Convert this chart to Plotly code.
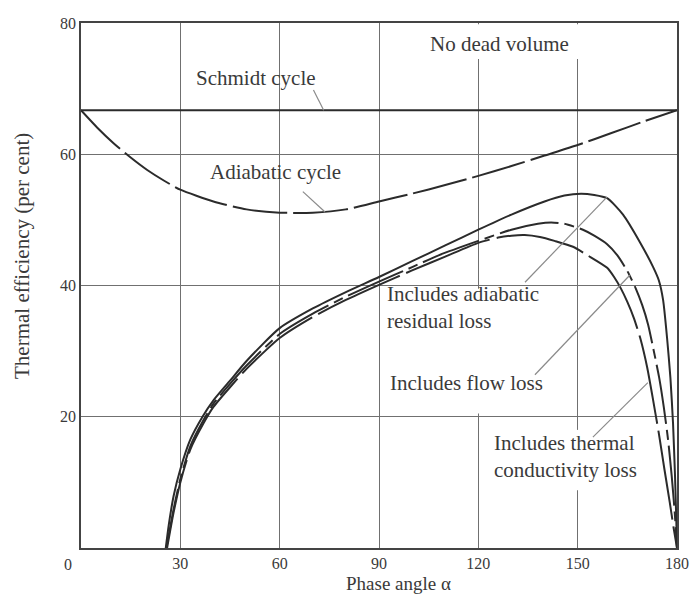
import plotly.graph_objects as go

# ---------------- data ----------------
schmidt_x = [0, 180]
schmidt_y = [66.7, 66.7]

adiabatic_x = [0, 5, 10, 15, 20, 25, 30, 40, 50, 60, 70, 80, 90, 100, 110, 120, 130, 140, 150, 160, 170, 180]
adiabatic_y = [66.7, 64.0, 61.6, 59.5, 57.6, 56.0, 54.6, 52.8, 51.6, 51.1, 51.1, 51.6, 52.8, 54.0, 55.3,
               56.7, 58.2, 59.8, 61.4, 63.2, 65.0, 66.7]

residual_x = [25.6, 26.5, 28, 30, 33, 36.7, 40, 45, 50, 60, 70, 80, 90, 100, 110, 120, 130, 140, 146, 151,
              155, 158.9, 163.7, 168.8, 172.8, 174.5, 175.8, 177, 178, 178.8, 179.4, 179.8, 180]
residual_y = [0, 3.5, 8, 12, 16.5, 20, 22.5, 25.5, 28.5, 33.5, 36.5, 39, 41.3, 43.7, 46.1, 48.5, 50.8, 52.8,
              53.7, 54.0, 53.8, 53.3, 50.8, 46.6, 42.8, 40.8, 37.8, 32, 26, 19, 11, 4, 0]

flow_x = [25.8, 28, 30, 33, 37, 40, 45, 50, 60, 70, 80, 90, 100, 108, 120, 130, 138, 142, 146, 151.6, 155,
          158.9, 162, 165, 167.5, 169.5, 171.3, 173, 174.6, 176, 177.3, 178.4, 179.3, 180]
flow_y = [0, 6, 10.5, 15.5, 19.5, 22, 25, 27.8, 32.6, 35.7, 38.3, 40.6, 42.8, 44.6, 46.8, 48.5, 49.4, 49.6,
          49.4, 48.5, 47.6, 46.3, 44.6, 42.2, 39.6, 37, 34, 30, 26, 21.5, 16.5, 11, 5.5, 0]

thermal_x = [26, 28, 30, 33, 37, 40, 45, 50, 60, 70, 80, 90, 100, 110, 120, 126, 130, 134, 138.6, 143,
             148.6, 153, 158.9, 161, 163, 165, 167, 169, 171, 172.8, 174.5, 176.2, 177.8, 179, 180]
thermal_y = [0, 5.5, 10, 15, 19, 21.5, 24.5, 27.3, 32, 35.2, 37.8, 40.1, 42.3, 44.4, 46.5, 47.3, 47.6, 47.7,
             47.4, 46.8, 45.9, 44.6, 42.7, 41.3, 39.6, 37.5, 35, 31.8, 27.5, 22.5, 17.5, 12, 7, 3, 0]

x_ticks = [30, 60, 90, 120, 150, 180]
y_ticks = [20, 40, 60, 80]

# ---------------- styling ----------------
INK = "#2b2b2b"
TXT = "#3a3a3a"
GRID = "#707070"
LEAD = "#8a8a8a"
FONT = "Liberation Serif"
LBL = 21

fig = go.Figure()

def curve(x, y, dash):
    fig.add_trace(go.Scatter(x=x, y=y, mode="lines", showlegend=False, hoverinfo="skip",
                             line=dict(color=INK, width=2, dash=dash, shape="spline", smoothing=0.6)))

curve(schmidt_x, schmidt_y, "solid")
curve(adiabatic_x, adiabatic_y, "55px,6px")
curve(residual_x, residual_y, "solid")
curve(flow_x, flow_y, "60px,6px,10px,6px")
curve(thermal_x, thermal_y, "90px,7px")

# white patches where the gridlines are interrupted by labels
for x0, x1, y0, y1 in [(105, 155, 74.5, 79.8), (118.5, 121.5, 20.5, 39.5), (148.5, 151.5, 8.8, 18)]:
    fig.add_shape(type="rect", x0=x0, x1=x1, y0=y0, y1=y1, xref="x", yref="y",
                  fillcolor="white", line=dict(width=0), layer="between")

# leader lines
for (xa, ya, xb, yb) in [(70.2, 69.8, 73.3, 66.7),
                         (67.0, 54.3, 73.7, 51.2),
                         (134.1, 40.5, 158.9, 53.5),
                         (137.1, 26.4, 165.8, 41.6),
                         (154.6, 16.9, 171.2, 25.2)]:
    fig.add_shape(type="line", x0=xa, y0=ya, x1=xb, y1=yb, xref="x", yref="y",
                  line=dict(color=LEAD, width=1.2), layer="above")

labels = [
    ("No dead volume", 126.5, 76.8, "center"),
    ("Schmidt cycle", 52.9, 71.6, "center"),
    ("Adiabatic cycle", 58.6, 57.3, "center"),
    ("Includes adiabatic<br>residual loss", 91.8, 36.7, "left"),
    ("Includes flow loss", 92.7, 25.2, "left"),
    ("Includes thermal<br>conductivity loss", 124.1, 13.9, "left"),
]
for text, x, y, anchor in labels:
    fig.add_annotation(x=x, y=y, xref="x", yref="y", text=text, showarrow=False,
                       xanchor=anchor, yanchor="middle", align=anchor,
                       font=dict(family=FONT, size=LBL, color=TXT))

# shared origin label
fig.add_annotation(x=0, y=0, xref="x", yref="y", text="0", showarrow=False,
                   xshift=-13, yshift=-16, font=dict(family=FONT, size=16, color=TXT))

# axis titles
fig.add_annotation(x=95.8, y=0, xref="x", yref="paper", text="Phase angle α", showarrow=False,
                   yanchor="top", yshift=-23, font=dict(family=FONT, size=19, color=TXT))
fig.add_annotation(x=0, y=44.5, xref="paper", yref="y", text="Thermal efficiency (per cent)",
                   showarrow=False, textangle=-90, xanchor="center", xshift=-59,
                   font=dict(family=FONT, size=LBL, color=TXT))

fig.update_xaxes(range=[0, 180], tickvals=x_ticks, ticktext=[str(v) for v in x_ticks],
                 showgrid=True, gridcolor=GRID, gridwidth=1.1, zeroline=False, automargin=False,
                 showline=True, linecolor="#444", linewidth=1.6, mirror=True, ticks="",
                 ticklabelstandoff=0, tickfont=dict(family=FONT, size=16, color=TXT))
fig.update_yaxes(range=[0, 80], tickvals=y_ticks, ticktext=[str(v) for v in y_ticks],
                 showgrid=True, gridcolor=GRID, gridwidth=1.1, zeroline=False, automargin=False,
                 showline=True, linecolor="#444", linewidth=1.6, mirror=True, ticks="",
                 ticklabelstandoff=0, tickfont=dict(family=FONT, size=16, color=TXT))

fig.update_layout(width=693, height=596, margin=dict(l=81, r=16, t=23, b=48),
                  paper_bgcolor="white", plot_bgcolor="white", showlegend=False)

# remove the default page margin so the 693x596 figure fills the window exactly
fig.write_html("out.html", config={"displayModeBar": False},
               post_script="document.body.style.margin='0';document.body.style.overflow='hidden';")
